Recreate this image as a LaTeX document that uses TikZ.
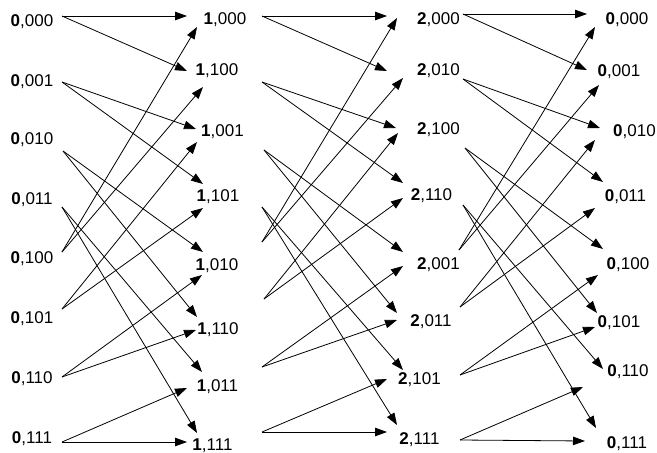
\documentclass[tikz,border=0pt]{standalone}
\usepackage{fontspec}
\setmainfont{Liberation Sans}
\usetikzlibrary{arrows.meta}
\begin{document}
\begin{tikzpicture}[x=1pt,y=-1pt,
  lbl/.style={font=\fontsize{17}{20}\selectfont, inner sep=0pt, anchor=base},
  arr/.style={line width=0.8pt, -{Triangle[length=12pt,width=8.5pt]}}]
\useasboundingbox (0,0) rectangle (657,453);
% column 0
\node[lbl] (a0) at (32,26) {\textbf{0},000};
\node[lbl] (a1) at (32,86) {\textbf{0},001};
\node[lbl] (a2) at (32,144) {\textbf{0},010};
\node[lbl] (a3) at (32,204) {\textbf{0},011};
\node[lbl] (a4) at (32,263) {\textbf{0},100};
\node[lbl] (a5) at (32,323) {\textbf{0},101};
\node[lbl] (a6) at (32,383) {\textbf{0},110};
\node[lbl] (a7) at (32,443) {\textbf{0},111};
% column 1
\node[lbl] (b0) at (225,24) {\textbf{1},000};
\node[lbl] (b1) at (217,75) {\textbf{1},100};
\node[lbl] (b2) at (222.5,136) {\textbf{1},001};
\node[lbl] (b3) at (218,201) {\textbf{1},101};
\node[lbl] (b4) at (217,270) {\textbf{1},010};
\node[lbl] (b5) at (218,334) {\textbf{1},110};
\node[lbl] (b6) at (217.5,391) {\textbf{1},011};
\node[lbl] (b7) at (212.5,450) {\textbf{1},111};
% column 2
\node[lbl] (c0) at (438.5,24) {\textbf{2},000};
\node[lbl] (c1) at (438.5,75) {\textbf{2},010};
\node[lbl] (c2) at (438.5,134) {\textbf{2},100};
\node[lbl] (c3) at (431.5,200) {\textbf{2},110};
\node[lbl] (c4) at (438.5,269) {\textbf{2},001};
\node[lbl] (c5) at (431,326) {\textbf{2},011};
\node[lbl] (c6) at (419.5,384) {\textbf{2},101};
\node[lbl] (c7) at (419.5,444) {\textbf{2},111};
% column 3
\node[lbl] (d0) at (627,24) {\textbf{0},000};
\node[lbl] (d1) at (619,76) {\textbf{0},001};
\node[lbl] (d2) at (634.5,136) {\textbf{0},010};
\node[lbl] (d3) at (625.5,201) {\textbf{0},011};
\node[lbl] (d4) at (628,269) {\textbf{0},100};
\node[lbl] (d5) at (619,327) {\textbf{0},101};
\node[lbl] (d6) at (628,376) {\textbf{0},110};
\node[lbl] (d7) at (627,448) {\textbf{0},111};
% start points
\coordinate (ao0) at (62,16);  \coordinate (ao1) at (62,82);
\coordinate (ao2) at (63,151); \coordinate (ao3) at (62,207);
\coordinate (ao4) at (62,252); \coordinate (ao5) at (62,309);
\coordinate (ao6) at (62,377); \coordinate (ao7) at (62,442);
\coordinate (bo0) at (262,16);  \coordinate (bo1) at (262,82);
\coordinate (bo2) at (264,150); \coordinate (bo3) at (262,207);
\coordinate (bo4) at (262,242); \coordinate (bo5) at (264,299);
\coordinate (bo6) at (262,367); \coordinate (bo7) at (262,432);
\coordinate (co0) at (463,14);  \coordinate (co1) at (463,79);
\coordinate (co2) at (465,148); \coordinate (co3) at (463,205);
\coordinate (co4) at (459,250); \coordinate (co5) at (460,307);
\coordinate (co6) at (460,375); \coordinate (co7) at (460,440);
% arrow tips column 1
\coordinate (bA0) at (187,16);  \coordinate (bB0) at (197,27);
\coordinate (bA1) at (187,71);  \coordinate (bB1) at (203,87);
\coordinate (bA2) at (196,129); \coordinate (bB2) at (197,142);
\coordinate (bA3) at (203,184); \coordinate (bB3) at (203,208);
\coordinate (bA4) at (203,252); \coordinate (bB4) at (202,275);
\coordinate (bA5) at (197,317); \coordinate (bB5) at (196,330);
\coordinate (bA6) at (202,372); \coordinate (bB6) at (187,388);
\coordinate (bA7) at (197,433); \coordinate (bB7) at (187,442);
% arrow tips column 2
\coordinate (cA0) at (387,16);  \coordinate (cB0) at (397,18);
\coordinate (cA1) at (387,71);  \coordinate (cB1) at (403,78);
\coordinate (cA2) at (396,128); \coordinate (cB2) at (398,133);
\coordinate (cA3) at (403,183); \coordinate (cB3) at (403,198);
\coordinate (cA4) at (403,252); \coordinate (cB4) at (403,266);
\coordinate (cA5) at (397,313); \coordinate (cB5) at (397,320);
\coordinate (cA6) at (403,370); \coordinate (cB6) at (387,379);
\coordinate (cA7) at (397,425); \coordinate (cB7) at (387,432);
% arrow tips column 3
\coordinate (dA0) at (587,14);  \coordinate (dB0) at (595,27);
\coordinate (dA1) at (587,70);  \coordinate (dB1) at (599,85);
\coordinate (dA2) at (600,128); \coordinate (dB2) at (595,140);
\coordinate (dA3) at (603,182); \coordinate (dB3) at (595,208);
\coordinate (dA4) at (603,249); \coordinate (dB4) at (598,275);
\coordinate (dA5) at (597,313); \coordinate (dB5) at (595,327);
\coordinate (dA6) at (603,369); \coordinate (dB6) at (583,387);
\coordinate (dA7) at (596,428); \coordinate (dB7) at (585,441);
% connectors
\foreach \s/\t/\u in {0/0/A,0/1/A,1/2/A,1/3/A,2/4/A,2/5/A,3/6/A,3/7/A,
                      4/0/B,4/1/B,5/2/B,5/3/B,6/4/B,6/5/B,7/6/B,7/7/B}{
  \draw[arr] (ao\s) -- (b\u\t);
  \draw[arr] (bo\s) -- (c\u\t);
  \draw[arr] (co\s) -- (d\u\t);
}
\end{tikzpicture}
\end{document}
